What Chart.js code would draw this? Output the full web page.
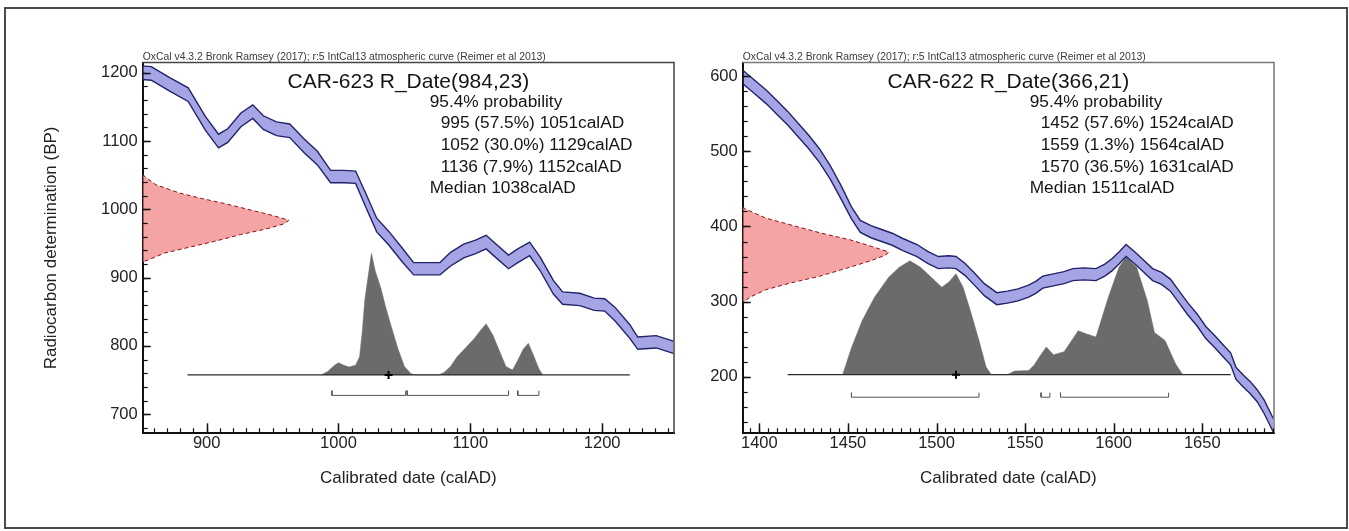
<!DOCTYPE html>
<html>
<head>
<meta charset="utf-8">
<script src="https://cdn.jsdelivr.net/npm/chart.js@4.4.1/dist/chart.umd.min.js"></script>
<style>
  html, body { margin: 0; padding: 0; background: #fff; }
  #wrap { position: relative; width: 1349px; height: 531px; overflow: hidden; background: #fff; }
  #frame { position: absolute; left: 4px; top: 7px; width: 1340px; height: 518px; border: 2px solid #4a4a4a; }
  #cLeft { position: absolute; left: 0; top: 0; }
  #cRight { position: absolute; left: 690px; top: 0; }
</style>
</head>
<body>
<div id="wrap">
  <div id="frame"></div>
  <canvas id="cLeft" width="690" height="531"></canvas>
  <canvas id="cRight" width="659" height="531"></canvas>
</div>
<script>
// ---------------- CAR-623 ----------------
const leftLab = 'CAR-623';
const leftDate = [984, 23];
const leftRanges = [[995, 57.5, 1051], [1052, 30.0, 1129], [1136, 7.9, 1152]];
const leftMedian = 1038;
const leftXTicks = [900, 1000, 1100, 1200];
const leftYTicks = [700, 800, 900, 1000, 1100, 1200];

// IntCal13 curve (calAD vs BP) and its 1-sigma
const leftCurveYears = [851, 858, 872, 886, 899, 909, 916, 926, 935, 943, 953, 963, 974, 984, 994, 1004, 1013, 1021, 1029, 1038, 1048, 1057, 1068, 1077, 1085, 1095, 1104, 1112, 1119, 1129, 1136, 1145, 1153, 1163, 1170, 1183, 1194, 1202, 1210, 1221, 1227, 1241, 1254];
const leftCurveBP    = [1200, 1199, 1183, 1168, 1126, 1100, 1108, 1131, 1143, 1127, 1118, 1115, 1093, 1075, 1048, 1048, 1047, 1012, 977, 958, 934, 913, 913, 913, 927, 939, 945, 952, 940, 923, 932, 942, 920, 886, 870, 868, 861, 860, 846, 821, 804, 806, 798];
const leftCurveErr   = [10, 10, 10, 10, 10, 10, 10, 10, 10, 10, 10, 10, 10, 10, 9, 9, 9, 10, 10, 10, 10, 9, 9, 9, 10, 10, 10, 10, 10, 10, 10, 10, 10, 10, 9, 9, 9, 9, 10, 10, 9, 9, 9];

// radiocarbon measurement profile (BP, relative probability)
const leftMeasBP   = [1051, 1047, 1036, 1024, 1016, 1009, 999, 991, 984, 979, 972, 963, 953, 944, 936, 927, 923];
const leftMeasProb = [0, 0.02, 0.09, 0.25, 0.4, 0.55, 0.74, 0.89, 1.0, 0.97, 0.86, 0.67, 0.49, 0.31, 0.15, 0.05, 0];

// calibrated distribution (calAD, relative probability)
const leftProbYears = [987, 992, 997, 1000, 1004, 1008, 1013, 1016, 1018, 1020, 1023, 1025, 1028, 1032, 1036, 1040, 1045, 1050, 1055, 1058, 1076, 1080, 1085, 1090, 1097, 1103, 1108, 1112, 1117, 1122, 1127, 1132, 1136, 1140, 1144, 1148, 1152, 1155];
const leftProb      = [0, 0.03, 0.08, 0.1, 0.08, 0.065, 0.08, 0.15, 0.35, 0.62, 0.85, 1.0, 0.85, 0.72, 0.55, 0.4, 0.22, 0.07, 0.01, 0, 0, 0.02, 0.07, 0.15, 0.23, 0.3, 0.37, 0.42, 0.33, 0.2, 0.07, 0.04, 0.12, 0.21, 0.26, 0.16, 0.05, 0];

// ---------------- CAR-622 ----------------
const rightLab = 'CAR-622';
const rightDate = [366, 21];
const rightRanges = [[1452, 57.6, 1524], [1559, 1.3, 1564], [1570, 36.5, 1631]];
const rightMedian = 1511;
const rightXTicks = [1400, 1450, 1500, 1550, 1600, 1650];
const rightYTicks = [200, 300, 400, 500, 600];

const rightCurveYears = [1391, 1397, 1404, 1410, 1416, 1422, 1428, 1434, 1440, 1446, 1452, 1457, 1463, 1469, 1475, 1481, 1489, 1495, 1501, 1507, 1511, 1516, 1521, 1527, 1534, 1540, 1546, 1552, 1556, 1560, 1566, 1572, 1577, 1583, 1590, 1595, 1599, 1603, 1607, 1612, 1617, 1622, 1627, 1632, 1637, 1642, 1647, 1652, 1657, 1662, 1666, 1669, 1673, 1677, 1681, 1685, 1690];
const rightCurveBP    = [598, 586, 572, 558, 544, 528, 512, 494, 472, 446, 418, 400, 393, 388, 383, 376, 368, 359, 352, 353, 352, 343, 331, 316, 304, 306, 309, 314, 319, 326, 329, 332, 336, 337, 336, 342, 349, 358, 368, 358, 347, 336, 331, 322, 306, 290, 276, 259, 247, 234, 224, 205, 195, 186, 175, 160, 136];
const rightCurveErr   = [9, 9, 9, 9, 9, 9, 9, 9, 9, 9, 8, 8, 8, 8, 8, 8, 8, 8, 8, 8, 8, 8, 8, 8, 8, 8, 8, 8, 8, 8, 8, 8, 8, 8, 8, 8, 8, 8, 8, 8, 8, 8, 8, 8, 8, 8, 8, 8, 8, 8, 8, 8, 8, 8, 8, 9, 9];

const rightMeasBP   = [426, 423, 411, 402, 391, 382, 373, 366, 362, 354, 345, 334, 325, 316, 306, 301, 298];
const rightMeasProb = [0, 0.02, 0.16, 0.33, 0.54, 0.74, 0.89, 1.0, 0.98, 0.87, 0.72, 0.53, 0.33, 0.16, 0.05, 0.015, 0];

const rightProbYears = [1447, 1452, 1458, 1465, 1473, 1479, 1485, 1491, 1497, 1503, 1507, 1511, 1515, 1519, 1524, 1528, 1531, 1540, 1544, 1552, 1555, 1558, 1562, 1566, 1572, 1580, 1584, 1590, 1597, 1603, 1607, 1613, 1619, 1623, 1629, 1635, 1639];
const rightProb      = [0, 0.23, 0.46, 0.66, 0.83, 0.915, 0.97, 0.915, 0.83, 0.745, 0.79, 0.86, 0.745, 0.55, 0.29, 0.065, 0, 0, 0.03, 0.035, 0.08, 0.15, 0.235, 0.17, 0.195, 0.375, 0.35, 0.32, 0.66, 0.915, 1.0, 0.915, 0.63, 0.36, 0.29, 0.09, 0];

const headerText = 'OxCal v4.3.2 Bronk Ramsey (2017); r:5 IntCal13 atmospheric curve (Reimer et al 2013)';

// ---------------- drawing ----------------
const FONT = '"Liberation Sans", Arial, Helvetica, sans-serif';
Chart.defaults.font.family = FONT;

const NAVY = '#22226a';
const BAND = 'rgba(110,110,215,0.62)';
const PINK = 'rgba(240,125,125,0.7)';
const DARKRED = '#8a1010';
const GREY = '#6b6b6b';

function makeAnnotations(info) {
  return {
    id: 'oxcalText',
    afterDatasetsDraw(chart) {
      const { ctx, chartArea: a } = chart;
      ctx.save();
      ctx.strokeStyle = info.frameColor;
      ctx.lineWidth = 1.5;
      ctx.beginPath();
      ctx.moveTo(a.left, a.top);
      ctx.lineTo(a.right, a.top);
      ctx.lineTo(a.right, a.bottom);
      ctx.stroke();
      ctx.restore();
    },
    afterDraw(chart) {
      const { ctx, chartArea: a, scales } = chart;
      const xs = scales.x, ys = scales.y;
      ctx.save();
      // tick marks point inward from the axes
      ctx.strokeStyle = '#111';
      const xTick = (v, len, w) => {
        const p = Math.round(xs.getPixelForValue(v)) + 0.5;
        ctx.lineWidth = w;
        ctx.beginPath(); ctx.moveTo(p, a.bottom); ctx.lineTo(p, a.bottom - len); ctx.stroke();
      };
      const yTick = (v, len, w) => {
        const p = Math.round(ys.getPixelForValue(v)) + 0.5;
        ctx.lineWidth = w;
        ctx.beginPath(); ctx.moveTo(a.left, p); ctx.lineTo(a.left + len, p); ctx.stroke();
      };
      for (let v = Math.ceil(xs.min / info.xMinor) * info.xMinor; v <= xs.max; v += info.xMinor) xTick(v, 5, 1.2);
      for (let v = Math.ceil(ys.min / info.yMinor) * info.yMinor; v <= ys.max; v += info.yMinor) yTick(v, 5, 1.2);
      info.xTicks.forEach(v => xTick(v, 10, 1.5));
      info.yTicks.forEach(v => yTick(v, 8, 1.5));
      // header line above the plot
      ctx.fillStyle = '#3a3a3a';
      ctx.textBaseline = 'alphabetic';
      ctx.textAlign = 'left';
      ctx.font = '10.4px ' + FONT;
      ctx.fillText(headerText, a.left, a.top - 3);
      // title
      ctx.fillStyle = '#151515';
      ctx.textAlign = 'center';
      ctx.font = '21px ' + FONT;
      ctx.fillText(info.lab + ' R_Date(' + info.date[0] + ',' + info.date[1] + ')', (a.left + a.right) / 2, a.top + 25.5);
      // probability ranges
      ctx.textAlign = 'left';
      ctx.font = '17.3px ' + FONT;
      const x0 = a.left + 287;
      ctx.fillText('95.4% probability', x0, a.top + 44);
      info.ranges.forEach((r, i) => {
        ctx.fillText(r[0] + ' (' + r[1].toFixed(1) + '%) ' + r[2] + 'calAD', x0 + 11, a.top + 65.8 + i * 21.7);
      });
      ctx.fillText('Median ' + info.median + 'calAD', x0, a.top + 65.8 + info.ranges.length * 21.7);
      ctx.restore();
    }
  };
}

function buildChart(canvasId, d) {
  const xSpan = d.xMax - d.xMin;
  const datasets = [];
  // median marker on the date axis line
  datasets.push({
    data: [{ x: d.median, y: d.baseline }], showLine: false, pointStyle: 'cross',
    pointRadius: 4, pointBorderWidth: 2, pointBorderColor: '#000', order: 0
  });
  datasets.push({
    data: [{ x: d.lineStart, y: d.baseline }, { x: d.lineEnd, y: d.baseline }], showLine: true,
    borderColor: '#2a2a2a', borderWidth: 1.3, pointRadius: 0, order: 1
  });
  // range brackets
  d.ranges.forEach(r => {
    datasets.push({
      data: [{ x: r[0], y: d.bracketBP + d.bracketTick }, { x: r[0], y: d.bracketBP },
             { x: r[2], y: d.bracketBP }, { x: r[2], y: d.bracketBP + d.bracketTick }],
      showLine: true, borderColor: '#555', borderWidth: 1, pointRadius: 0, order: 1
    });
  });
  // calibration curve band
  datasets.push({
    data: d.curveYears.map((x, i) => ({ x, y: d.curveBP[i] - d.curveErr[i] })),
    showLine: true, borderColor: NAVY, borderWidth: 1.4, pointRadius: 0, order: 2
  });
  datasets.push({
    data: d.curveYears.map((x, i) => ({ x, y: d.curveBP[i] + d.curveErr[i] })),
    showLine: true, borderColor: NAVY, borderWidth: 1.4, pointRadius: 0,
    fill: '-1', backgroundColor: BAND, order: 2
  });
  // radiocarbon measurement on the BP axis
  datasets.push({
    data: d.measBP.map((y, i) => ({ x: d.xMin + d.measProb[i] * xSpan * 0.275, y })),
    showLine: true, borderColor: DARKRED, borderWidth: 1, borderDash: [4, 3], pointRadius: 0,
    fill: 'shape', backgroundColor: PINK, order: 4
  });
  // calibrated date distribution
  datasets.push({
    data: d.probYears.map((x, i) => ({ x, y: d.baseline + d.prob[i] * d.probHeight })),
    showLine: true, borderColor: GREY, borderWidth: 0.5, pointRadius: 0,
    fill: 'shape', backgroundColor: GREY, order: 5
  });

  const tickFont = { size: 16.5 };
  const noGrid = { display: false, drawOnChartArea: false, drawTicks: false, tickLength: 0 };
  return new Chart(document.getElementById(canvasId), {
    type: 'scatter',
    data: { datasets },
    options: {
      responsive: false, animation: false, devicePixelRatio: 1,
      layout: { padding: d.padding },
      elements: { line: { tension: 0 } },
      plugins: { legend: { display: false }, tooltip: { enabled: false } },
      scales: {
        x: {
          type: 'linear', position: 'bottom', min: d.xMin, max: d.xMax,
          afterBuildTicks: s => { s.ticks = d.xTicks.map(v => ({ value: v })); },
          ticks: { font: tickFont, color: '#222', padding: 0, autoSkip: false, maxRotation: 0, callback: v => String(v) },
          grid: noGrid,
          border: { display: true, color: '#111', width: 2 },
          title: { display: true, text: 'Calibrated date (calAD)', font: { size: 17 }, color: '#222', padding: { top: 4, bottom: 4 } },
          afterFit: s => { s.height = 59.3; }
        },
        y: {
          type: 'linear', position: 'left', min: d.yMin, max: d.yMax,
          afterBuildTicks: s => { s.ticks = d.yTicks.map(v => ({ value: v })); },
          ticks: { font: tickFont, color: '#222', padding: 5, autoSkip: false, callback: v => String(v) },
          grid: noGrid,
          border: { display: true, color: '#111', width: 2 },
          title: { display: d.yTitle, text: 'Radiocarbon determination (BP)', font: { size: 17 }, color: '#222', padding: { top: 4, bottom: 4 } },
          afterFit: s => { s.width = d.yWidth; }
        }
      }
    },
    plugins: [makeAnnotations({
      lab: d.lab, date: d.date, ranges: d.ranges, median: d.median,
      xTicks: d.xTicks, yTicks: d.yTicks,
      xMinor: d.xMinor, yMinor: d.yMinor, frameColor: d.frameColor
    })]
  });
}

buildChart('cLeft', {
  lab: leftLab, date: leftDate, ranges: leftRanges, median: leftMedian,
  xTicks: leftXTicks, yTicks: leftYTicks, xMin: 851.5, xMax: 1254.5, yMin: 672, yMax: 1215,
  curveYears: leftCurveYears, curveBP: leftCurveBP, curveErr: leftCurveErr,
  measBP: leftMeasBP, measProb: leftMeasProb,
  probYears: leftProbYears, prob: leftProb, probHeight: 178,
  baseline: 757.5, lineStart: 885.5, lineEnd: 1221, bracketBP: 727.5, bracketTick: 7,
  xMinor: 10, yMinor: 20, frameColor: '#444',
  padding: { left: 37, top: 62.5, right: 16, bottom: 38.4 }, yWidth: 105.7, yTitle: true
});

buildChart('cRight', {
  lab: rightLab, date: rightDate, ranges: rightRanges, median: rightMedian,
  xTicks: rightXTicks, yTicks: rightYTicks, xMin: 1390.6, xMax: 1690.5, yMin: 125, yMax: 618,
  curveYears: rightCurveYears, curveBP: rightCurveBP, curveErr: rightCurveErr,
  measBP: rightMeasBP, measProb: rightMeasProb,
  probYears: rightProbYears, prob: rightProb, probHeight: 156,
  baseline: 203, lineStart: 1416, lineEnd: 1666, bracketBP: 173, bracketTick: 6,
  xMinor: 5, yMinor: 20, frameColor: '#777',
  padding: { left: 0, top: 62.5, right: 75, bottom: 38.4 }, yWidth: 52.7, yTitle: false
});
</script>
</body>
</html>
